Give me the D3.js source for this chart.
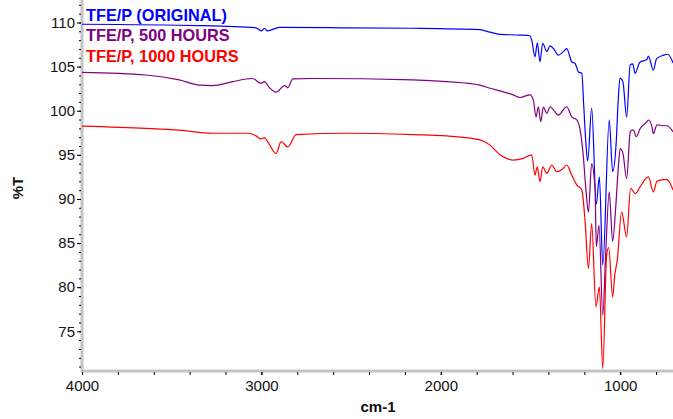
<!DOCTYPE html>
<html><head><meta charset="utf-8">
<script src="https://cdn.jsdelivr.net/npm/d3@7"></script>
<style>
html,body{margin:0;padding:0;background:#fff;}
svg{display:block;font-family:"Liberation Sans",Arial,sans-serif;}
</style></head>
<body><svg id="chart" width="673" height="419"></svg>
<script>
// ---- data: [wavenumber (cm-1), %T] ----
const original = [[4000,109.8],[3346,109.65],[3030,109.4],[3000,109.05],[2983,109.35],[2966,109.05],[2899,109.45],[2564,109.4],[2156,109.35],[1782,109.2],[1726,108.9],[1670,108.65],[1559,108.58],[1503,108.5],[1493,108.0],[1475,106.1],[1462,107.7],[1447,105.55],[1432,107.65],[1409,106.7],[1391,107.35],[1372,107.05],[1345,106.3],[1317,106.7],[1298,107.05],[1270,105.55],[1251,105.35],[1233,104.4],[1214,104.25],[1203,100.5],[1190,96.0],[1181,94.3],[1159,100.3],[1133,89.4],[1116,92.5],[1097,82.5],[1061,98.95],[1042,93.1],[1022,96.5],[1012,100.8],[1001,103.7],[985,103.3],[964,99.3],[944,105.2],[930,105.3],[917,104.24],[890,105.5],[851,105.8],[843,106.2],[815,104.6],[797,105.9],[758,106.3],[735,106.4],[705,105.4]];
const hours500 = [[4000,104.35],[3644,104.05],[3458,103.5],[3346,102.9],[3272,102.85],[3160,103.3],[3049,103.65],[3002,103.1],[2983,103.3],[2955,102.6],[2918,102.1],[2871,102.85],[2853,102.6],[2825,103.6],[2713,103.65],[2155,103.5],[1968,103.3],[1782,102.9],[1726,102.55],[1670,102.25],[1596,101.8],[1559,101.5],[1503,101.8],[1484,101.2],[1469,99.3],[1456,100.45],[1443,98.75],[1428,100.4],[1409,99.7],[1391,100.45],[1372,100.1],[1345,99.5],[1298,100.45],[1270,99.3],[1242,98.95],[1223,97.8],[1207,95.2],[1190,90.8],[1177,88.5],[1159,94.0],[1140,91.0],[1133,84.6],[1118,87.0],[1097,76.8],[1080,84.2],[1061,90.8],[1042,85.2],[1025,89.0],[1012,93.1],[1000,95.7],[985,95.2],[964,92.3],[944,97.6],[935,97.8],[926,97.8],[911,97.05],[888,98.0],[851,98.75],[842,98.95],[823,98.2],[815,97.4],[795,98.4],[758,98.3],[739,98.3],[705,97.6]];
const hours1000 = [[4000,98.25],[3644,98.0],[3458,97.8],[3272,97.45],[3067,97.45],[3030,97.15],[3002,96.8],[2983,96.95],[2965,96.5],[2918,95.15],[2890,96.5],[2853,95.9],[2806,97.3],[2527,97.45],[2155,97.3],[1968,97.15],[1782,96.7],[1726,96.1],[1670,95.0],[1633,94.6],[1596,94.4],[1540,94.6],[1493,95.0],[1475,92.7],[1462,93.65],[1447,91.95],[1432,93.65],[1409,92.9],[1382,93.85],[1354,93.1],[1326,93.3],[1298,93.85],[1270,92.7],[1242,91.6],[1214,91.0],[1196,87.6],[1177,82.1],[1159,87.2],[1135,77.8],[1116,80.05],[1097,70.8],[1075,83.8],[1064,84.5],[1042,78.9],[1030,81.4],[1016,83.1],[992,88.55],[964,85.7],[942,91.2],[916,90.6],[888,91.4],[843,92.5],[815,90.8],[795,92.0],[758,92.2],[739,92.2],[705,91.0]];

const seriesNames = ["TFE/P (ORIGINAL)", "TFE/P, 500 HOURS", "TFE/P, 1000 HOURS"];
const seriesColors = ["#0000ff", "#800080", "#ff0000"];
const seriesData = [original, hours500, hours1000];

const xMajorTicks = [4000, 3000, 2000, 1000];
const xMinorTicks = d3.range(4000, 699, -200);
const yMajorTicks = [75, 80, 85, 90, 95, 100, 105, 110];
const yMinorTicks = d3.range(71, 113, 1);
const xTitle = "cm-1";
const yTitle = "%T";

(function draw() {
  const svg = d3.select("#chart");
  const pL = 82, pR = 674, pT = 0, pB = 371;
  const x = d3.scaleLinear().domain([4000, 700]).range([pL, pR]);
  const y = d3.scaleLinear().domain([70.5, 112.55]).range([pB, pT]);

  svg.append("clipPath").attr("id","clip").append("rect")
    .attr("x", pL).attr("y", pT).attr("width", pR-pL).attr("height", pB-pT);

  // axis lines (grey bands)
  svg.append("line").attr("x1", pL).attr("x2", pL).attr("y1", 0).attr("y2", pB+1)
    .attr("stroke", "#c4c4c4").attr("stroke-width", 3);
  svg.append("line").attr("x1", pL-1).attr("x2", 673).attr("y1", pB).attr("y2", pB)
    .attr("stroke", "#c4c4c4").attr("stroke-width", 3);

  // y axis
  const yAxis = d3.axisLeft(y).tickValues(yMajorTicks).tickSize(4).tickPadding(2).tickFormat(d3.format("d"));
  const gy = svg.append("g").attr("transform", `translate(${pL-1},0)`).call(yAxis);
  gy.select(".domain").remove();
  gy.selectAll("text").attr("font-size", 15).attr("fill", "#111").attr("font-family", "Liberation Sans, Arial, sans-serif");
  gy.selectAll("line").attr("stroke", "#000");
  const gyMinor = svg.append("g").attr("transform", `translate(${pL-1},0)`)
    .call(d3.axisLeft(y).tickValues(yMinorTicks).tickSize(2).tickFormat(""));
  gyMinor.select(".domain").remove();
  gyMinor.selectAll("line").attr("stroke", "#000");

  // x axis
  const xAxis = d3.axisBottom(x).tickValues(xMajorTicks).tickSize(3).tickPadding(5).tickFormat(d3.format("d"));
  const gx = svg.append("g").attr("transform", `translate(0,${pB+1})`).call(xAxis);
  gx.select(".domain").remove();
  gx.selectAll("text").attr("font-size", 15).attr("fill", "#111").attr("font-family", "Liberation Sans, Arial, sans-serif");
  gx.selectAll("line").attr("stroke", "#000");
  const gxMinor = svg.append("g").attr("transform", `translate(0,${pB+1})`)
    .call(d3.axisBottom(x).tickValues(xMinorTicks).tickSize(3).tickFormat(""));
  gxMinor.select(".domain").remove();
  gxMinor.selectAll("line").attr("stroke", "#000");

  // titles
  svg.append("text").attr("x", (pL+pR)/2).attr("y", 412).attr("text-anchor", "middle")
    .attr("font-size", 15).attr("font-weight", "bold").attr("fill", "#111").text(xTitle);
  svg.append("text").attr("transform", `translate(23,188) rotate(-90)`).attr("text-anchor", "middle")
    .attr("font-size", 15).attr("font-weight", "bold").attr("fill", "#111").text(yTitle);

  // lines
  const line = d3.line().x(d => x(d[0])).y(d => y(d[1])).curve(d3.curveMonotoneX);
  const plot = svg.append("g").attr("clip-path", "url(#clip)");
  seriesData.forEach((data, i) => {
    plot.append("path").datum(data).attr("d", line).attr("fill", "none")
      .attr("stroke", seriesColors[i]).attr("stroke-width", 1.2);
  });

  // legend
  const legendY = [20.5, 40.5, 61.5];
  seriesNames.forEach((name, i) => {
    svg.append("text").attr("x", 86).attr("y", legendY[i]).attr("font-size", 16.3)
      .attr("font-weight", "bold").attr("fill", seriesColors[i]).text(name);
  });
})();
</script></body></html>
